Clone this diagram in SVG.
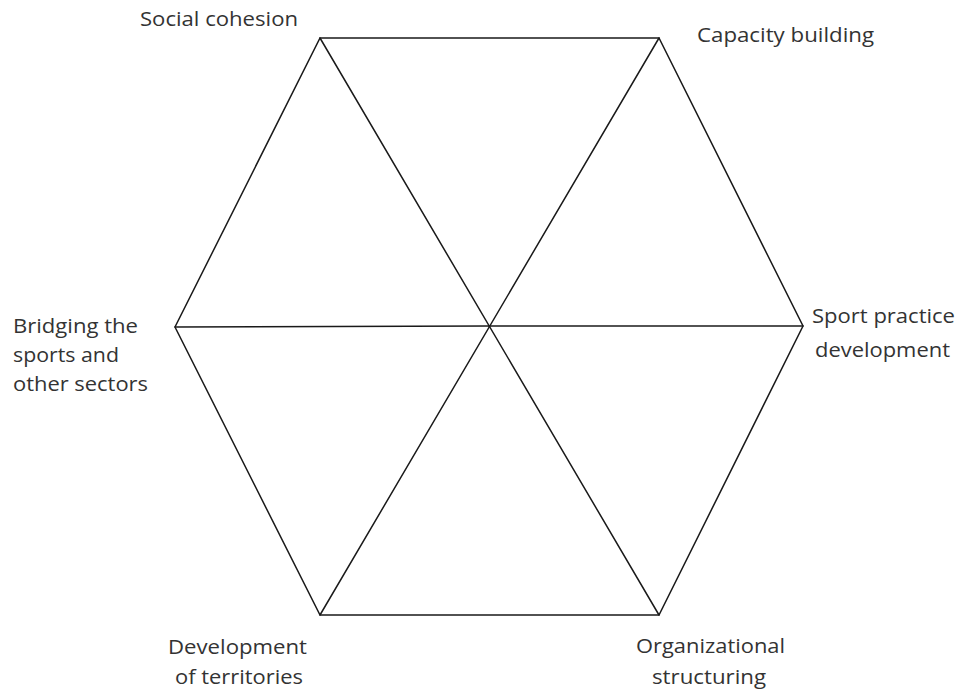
<svg xmlns="http://www.w3.org/2000/svg" width="958" height="696" viewBox="0 0 958 696">
<style>
.ln{stroke:#1a1a1a;stroke-width:1.5;fill:none;stroke-linecap:round;stroke-linejoin:miter}
.lb{font-family:"Open Sans","Liberation Sans",sans-serif;font-size:19.5px;fill:#333333}
</style>
<rect width="958" height="696" fill="#ffffff"/>
<g id="connectors">
<polygon class="ln" points="320,38 659,38 803,326 659,615 320,615 175,327"/>
<line class="ln" x1="320" y1="38" x2="659" y2="615"/>
<line class="ln" x1="659" y1="38" x2="320" y2="615"/>
<line class="ln" x1="175" y1="327" x2="489" y2="326"/>
<line class="ln" x1="489" y1="326" x2="803" y2="326"/>
</g>
<g id="node-social-cohesion"><text class="lb" x="140" y="26" textLength="158" lengthAdjust="spacingAndGlyphs">Social cohesion</text></g>
<g id="node-capacity-building"><text class="lb" x="697" y="42" textLength="177" lengthAdjust="spacingAndGlyphs">Capacity building</text></g>
<g id="node-bridging">
<text class="lb" x="13" y="333" textLength="125" lengthAdjust="spacingAndGlyphs">Bridging the</text>
<text class="lb" x="13" y="362" textLength="106" lengthAdjust="spacingAndGlyphs">sports and</text>
<text class="lb" x="13" y="391" textLength="135" lengthAdjust="spacingAndGlyphs">other sectors</text>
</g>
<g id="node-sport-practice">
<text class="lb" x="812" y="323" textLength="143" lengthAdjust="spacingAndGlyphs">Sport practice</text>
<text class="lb" x="815" y="357" textLength="135" lengthAdjust="spacingAndGlyphs">development</text>
</g>
<g id="node-development-territories">
<text class="lb" x="168" y="654" textLength="139" lengthAdjust="spacingAndGlyphs">Development</text>
<text class="lb" x="175" y="684" textLength="128" lengthAdjust="spacingAndGlyphs">of territories</text>
</g>
<g id="node-organizational">
<text class="lb" x="636" y="653" textLength="149" lengthAdjust="spacingAndGlyphs">Organizational</text>
<text class="lb" x="652" y="684" textLength="114" lengthAdjust="spacingAndGlyphs">structuring</text>
</g>
</svg>
